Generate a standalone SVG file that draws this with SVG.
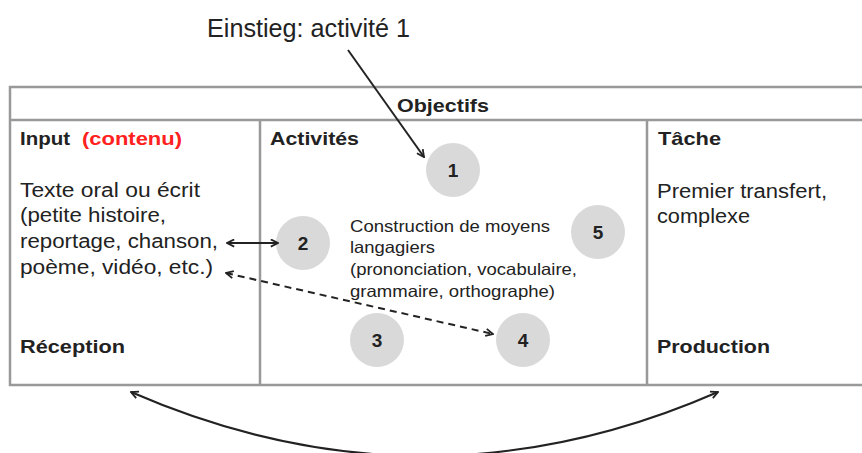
<svg xmlns="http://www.w3.org/2000/svg" width="862" height="453" viewBox="0 0 862 453">
<defs>
<style>
text{font-family:"Liberation Sans",Arial,sans-serif;fill:#222;}
.b{font-weight:bold;}
.h{font-size:18.5px;font-weight:bold;}
.t{font-size:20px;}
.s{font-size:16.5px;}
.n{font-size:19px;font-weight:bold;text-anchor:middle;}
.grid{stroke:#999;stroke-width:2.5;fill:none;}
.circ{fill:#d9d9d9;}
.ar{stroke:#222;stroke-width:2;fill:none;}
</style>
<marker id="ah" viewBox="0 0 10 10" refX="9" refY="5" markerWidth="9" markerHeight="9" markerUnits="userSpaceOnUse" orient="auto-start-reverse">
<path d="M1,1 L9,5 L1,9" fill="none" stroke="#222" stroke-width="2"/>
</marker>
</defs>
<rect width="862" height="453" fill="#fff"/>
<g id="table">
<path class="grid" d="M862,87 H10 V385 H862 M10,120 H862 M260,120 V385 M647,120 V385"/>
</g>
<text x="207" y="37" style="font-size:25px" textLength="203" lengthAdjust="spacingAndGlyphs">Einstieg: activité 1</text>
<text x="397" y="112" class="h" textLength="92" lengthAdjust="spacingAndGlyphs">Objectifs</text>
<g id="input">
<text x="20" y="145" class="h" textLength="50" lengthAdjust="spacingAndGlyphs">Input</text>
<text x="82" y="145" class="h" style="fill:#ff2020" textLength="100" lengthAdjust="spacingAndGlyphs">(contenu)</text>
<text x="20" y="197" class="t" textLength="180" lengthAdjust="spacingAndGlyphs">Texte oral ou écrit</text>
<text x="20" y="222" class="t" textLength="146" lengthAdjust="spacingAndGlyphs">(petite histoire,</text>
<text x="20" y="248" class="t" textLength="198" lengthAdjust="spacingAndGlyphs">reportage, chanson,</text>
<text x="20" y="274" class="t" textLength="193" lengthAdjust="spacingAndGlyphs">poème, vidéo, etc.)</text>
<text x="20" y="353" class="h" textLength="105" lengthAdjust="spacingAndGlyphs">Réception</text>
</g>
<g id="activites">
<text x="270" y="145" class="h" textLength="89" lengthAdjust="spacingAndGlyphs">Activités</text>
<text x="350" y="232" class="s" textLength="200" lengthAdjust="spacingAndGlyphs">Construction de moyens</text>
<text x="350" y="253" class="s" textLength="85" lengthAdjust="spacingAndGlyphs">langagiers</text>
<text x="350" y="275" class="s" textLength="227" lengthAdjust="spacingAndGlyphs">(prononciation, vocabulaire,</text>
<text x="350" y="297" class="s" textLength="205" lengthAdjust="spacingAndGlyphs">grammaire, orthographe)</text>
</g>
<g id="tache">
<text x="658" y="145" class="h" textLength="63" lengthAdjust="spacingAndGlyphs">Tâche</text>
<text x="657" y="198" class="t" textLength="170" lengthAdjust="spacingAndGlyphs">Premier transfert,</text>
<text x="657" y="223" class="t" textLength="93" lengthAdjust="spacingAndGlyphs">complexe</text>
<text x="657" y="353" class="h" textLength="113" lengthAdjust="spacingAndGlyphs">Production</text>
</g>
<g id="n1"><circle class="circ" cx="453" cy="170" r="27"/><text x="453" y="177" class="n">1</text></g>
<g id="n2"><circle class="circ" cx="303" cy="243" r="27"/><text x="303" y="250" class="n">2</text></g>
<g id="n3"><circle class="circ" cx="377" cy="340" r="27"/><text x="377" y="347" class="n">3</text></g>
<g id="n4"><circle class="circ" cx="523" cy="340" r="27"/><text x="523" y="347" class="n">4</text></g>
<g id="n5"><circle class="circ" cx="598" cy="232" r="27"/><text x="598" y="239" class="n">5</text></g>
<g id="connectors">
<line class="ar" x1="348" y1="50" x2="424" y2="157" marker-end="url(#ah)"/>
<line class="ar" x1="227" y1="243" x2="278" y2="243" marker-start="url(#ah)" marker-end="url(#ah)"/>
<line class="ar" x1="226" y1="273" x2="493" y2="334" stroke-dasharray="7,5" marker-start="url(#ah)" marker-end="url(#ah)"/>
<path class="ar" d="M131,392 Q425,520 718,392" marker-start="url(#ah)" marker-end="url(#ah)"/>
</g>
</svg>
